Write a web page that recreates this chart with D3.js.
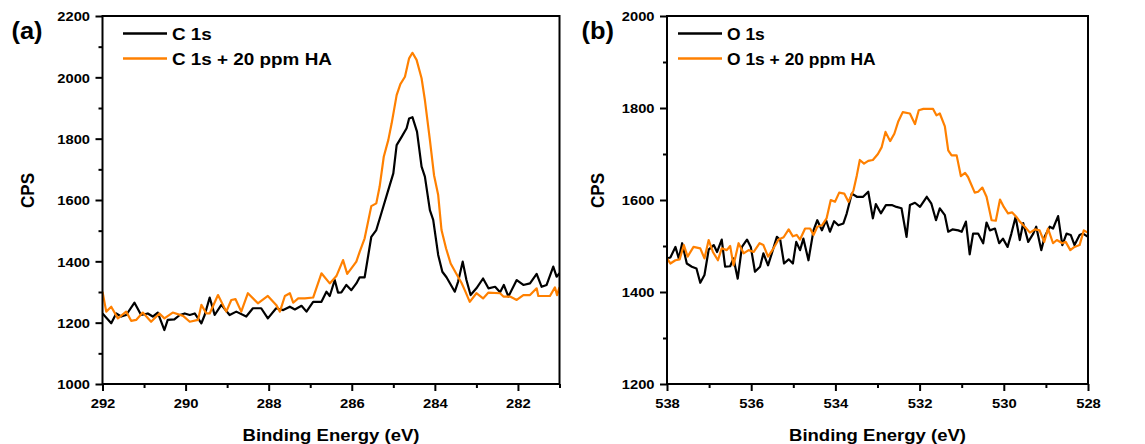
<!DOCTYPE html>
<html>
<head>
<meta charset="utf-8">
<script src="https://cdn.jsdelivr.net/npm/d3@7"></script>
<style>
  html, body { margin: 0; padding: 0; background: #fff; }
  svg { display: block; font-family: "Liberation Sans", Arial, sans-serif; font-weight: bold; }
</style>
</head>
<body>
<svg id="chart" width="1145" height="444"></svg>
<script>
// ---- XPS spectra: [binding energy (eV), counts per second] ----
const c1s = [
  [292.00,1230],[291.79,1198],[291.67,1230],[291.55,1220],[291.43,1225],[291.23,1265],[291.07,1225],
  [290.91,1230],[290.79,1220],[290.67,1233],[290.51,1176],[290.43,1209],[290.27,1211],[290.14,1225],
  [290.02,1230],[289.90,1225],[289.78,1230],[289.62,1198],[289.54,1225],[289.42,1282],[289.30,1225],
  [289.14,1258],[288.94,1225],[288.78,1236],[288.54,1220],[288.38,1247],[288.18,1247],[288.02,1214],
  [287.82,1247],[287.65,1241],[287.49,1252],[287.37,1243],[287.21,1255],[287.09,1236],[286.93,1268],
  [286.73,1268],[286.61,1301],[286.53,1287],[286.41,1339],[286.33,1298],[286.25,1299],[286.13,1323],
  [286.01,1306],[285.89,1328],[285.81,1348],[285.69,1348],[285.53,1480],[285.41,1502],[285.29,1556],
  [285.12,1633],[285.00,1687],[284.92,1779],[284.80,1806],[284.68,1834],[284.62,1866],[284.54,1870],
  [284.43,1823],[284.32,1709],[284.24,1676],[284.12,1567],[284.04,1535],[283.92,1421],[283.82,1366],
  [283.72,1348],[283.52,1301],[283.44,1334],[283.33,1399],[283.24,1339],[283.14,1290],[283.00,1312],
  [282.84,1344],[282.71,1312],[282.55,1317],[282.43,1299],[282.34,1323],[282.23,1285],[282.03,1339],
  [281.87,1323],[281.71,1328],[281.55,1359],[281.43,1317],[281.31,1323],[281.15,1383],[281.07,1350],
  [281.00,1361]
];
const c1sHA = [
  [292.00,1301],[291.91,1236],[291.79,1252],[291.63,1214],[291.43,1236],[291.31,1206],[291.19,1209],
  [291.03,1233],[290.83,1203],[290.63,1230],[290.51,1214],[290.31,1233],[290.06,1222],[289.90,1203],
  [289.70,1209],[289.62,1258],[289.50,1230],[289.42,1230],[289.22,1290],[289.02,1236],[288.90,1274],
  [288.80,1277],[288.66,1236],[288.50,1296],[288.26,1263],[288.02,1287],[287.82,1258],[287.73,1236],
  [287.61,1287],[287.49,1296],[287.41,1265],[287.29,1279],[287.13,1279],[286.93,1282],[286.73,1361],
  [286.53,1328],[286.37,1352],[286.21,1404],[286.11,1359],[286.01,1377],[285.89,1399],[285.81,1431],
  [285.69,1475],[285.53,1580],[285.41,1589],[285.33,1643],[285.23,1741],[285.12,1796],[285.04,1850],
  [284.92,1942],[284.83,1978],[284.72,2002],[284.62,2062],[284.54,2080],[284.44,2057],[284.32,1997],
  [284.24,1926],[284.12,1796],[284.02,1681],[283.92,1616],[283.84,1502],[283.73,1442],[283.62,1393],
  [283.49,1361],[283.36,1330],[283.28,1306],[283.16,1268],[283.00,1296],[282.84,1279],[282.71,1298],
  [282.43,1296],[282.35,1285],[282.19,1285],[282.03,1274],[281.87,1290],[281.71,1290],[281.55,1312],
  [281.51,1287],[281.23,1287],[281.11,1315],[281.06,1290],[281.00,1315]
];
const o1s = [
  [538.00,1473],[537.92,1475],[537.80,1498],[537.72,1473],[537.64,1506],[537.53,1462],[537.41,1455],
  [537.30,1451],[537.21,1420],[537.11,1437],[537.01,1492],[536.89,1502],[536.81,1487],[536.70,1514],
  [536.62,1455],[536.50,1456],[536.42,1473],[536.32,1429],[536.22,1498],[536.10,1514],[536.01,1498],
  [535.91,1444],[535.79,1455],[535.71,1484],[535.60,1458],[535.51,1484],[535.39,1520],[535.31,1513],
  [535.22,1462],[535.11,1471],[535.01,1462],[534.93,1509],[534.84,1491],[534.76,1516],[534.64,1469],
  [534.52,1534],[534.43,1556],[534.32,1534],[534.22,1556],[534.13,1531],[534.03,1554],[533.93,1545],
  [533.81,1549],[533.73,1571],[533.61,1614],[533.49,1607],[533.34,1607],[533.22,1618],[533.11,1560],
  [533.04,1591],[532.92,1571],[532.80,1589],[532.66,1589],[532.55,1585],[532.43,1582],[532.31,1520],
  [532.23,1589],[532.11,1594],[531.99,1585],[531.83,1607],[531.72,1592],[531.61,1556],[531.52,1582],
  [531.40,1567],[531.32,1531],[531.22,1536],[531.08,1534],[531.00,1531],[530.90,1553],[530.81,1482],
  [530.73,1527],[530.61,1527],[530.49,1506],[530.41,1551],[530.33,1534],[530.21,1538],[530.11,1506],
  [530.02,1516],[529.91,1498],[529.82,1527],[529.72,1563],[529.62,1513],[529.54,1550],[529.42,1509],
  [529.30,1527],[529.23,1542],[529.11,1491],[529.03,1520],[528.91,1542],[528.83,1538],[528.71,1565],
  [528.61,1502],[528.51,1527],[528.41,1524],[528.32,1502],[528.20,1524],[528.12,1527],[528.00,1520]
];
const o1sHA = [
  [538.00,1473],[537.92,1462],[537.80,1469],[537.70,1471],[537.60,1502],[537.51,1477],[537.37,1498],
  [537.21,1495],[537.11,1473],[537.01,1513],[536.91,1487],[536.79,1469],[536.70,1495],[536.58,1491],
  [536.50,1500],[536.42,1458],[536.30,1506],[536.18,1484],[536.06,1491],[535.94,1487],[535.80,1506],
  [535.71,1502],[535.60,1477],[535.47,1495],[535.35,1514],[535.23,1519],[535.11,1536],[535.01,1521],
  [534.92,1524],[534.84,1514],[534.72,1538],[534.60,1538],[534.52,1524],[534.43,1542],[534.32,1545],
  [534.21,1560],[534.11,1600],[534.01,1596],[533.91,1616],[533.79,1614],[533.69,1596],[533.57,1621],
  [533.49,1654],[533.42,1687],[533.32,1679],[533.22,1685],[533.11,1687],[532.99,1700],[532.90,1715],
  [532.81,1748],[532.70,1728],[532.60,1744],[532.51,1770],[532.40,1791],[532.23,1788],[532.11,1765],
  [532.02,1795],[531.91,1798],[531.68,1798],[531.60,1784],[531.52,1788],[531.40,1760],[531.32,1708],
  [531.24,1697],[531.12,1697],[531.02,1652],[530.92,1659],[530.85,1650],[530.69,1616],[530.61,1618],
  [530.51,1627],[530.41,1607],[530.29,1556],[530.19,1555],[530.09,1601],[530.00,1585],[529.90,1571],
  [529.80,1573],[529.70,1563],[529.62,1553],[529.50,1542],[529.38,1529],[529.26,1536],[529.15,1534],
  [529.04,1509],[528.95,1538],[528.83,1506],[528.74,1513],[528.61,1506],[528.53,1509],[528.42,1491],
  [528.32,1498],[528.20,1502],[528.10,1534],[528.00,1529]
];

// ---- series names and axis ticks ----
const c1sNames = ["C 1s", "C 1s + 20 ppm HA"];
const o1sNames = ["O 1s", "O 1s + 20 ppm HA"];
const c1sXTicks = [292, 290, 288, 286, 284, 282];
const c1sXMinor = [291, 289, 287, 285, 283, 281];
const c1sYTicks = [1000, 1200, 1400, 1600, 1800, 2000, 2200];
const c1sYMinor = [1100, 1300, 1500, 1700, 1900, 2100];
const o1sXTicks = [538, 536, 534, 532, 530, 528];
const o1sXMinor = [537, 535, 533, 531, 529];
const o1sYTicks = [1200, 1400, 1600, 1800, 2000];
const o1sYMinor = [1300, 1500, 1700, 1900];
const seriesColors = ["#000000", "#ff8000"];

const panels = [
  { tag: "(a)", series: [c1s, c1sHA], names: c1sNames,
    xDomain: [292, 281], yDomain: [1000, 2200],
    xTicks: c1sXTicks, xMinor: c1sXMinor, yTicks: c1sYTicks, yMinor: c1sYMinor,
    left: 102.5, right: 559.5, top: 16, bottom: 384,
    tagX: 11.5, cpsX: 33.5, legendX: 123, legendSx: 1.18 },
  { tag: "(b)", series: [o1s, o1sHA], names: o1sNames,
    xDomain: [538, 528], yDomain: [1200, 2000],
    xTicks: o1sXTicks, xMinor: o1sXMinor, yTicks: o1sYTicks, yMinor: o1sYMinor,
    left: 667, right: 1088, top: 16, bottom: 384,
    tagX: 581.5, cpsX: 604, legendX: 678, legendSx: 1.09 }
];

const svg = d3.select("#chart");

// horizontally widened bold text, as in the original figure's type
function wideText(g, str, x, y, size, sx, anchor, rot) {
  return g.append("text")
    .attr("transform", `translate(${x},${y}) scale(${sx},1)` + (rot ? ` rotate(${rot})` : ""))
    .attr("text-anchor", anchor)
    .attr("fill", "#000")
    .style("font-size", size + "px")
    .text(str);
}

panels.forEach((p, pi) => {
  const g = svg.append("g");
  const x = d3.scaleLinear().domain(p.xDomain).range([p.left, p.right]);
  const y = d3.scaleLinear().domain(p.yDomain).range([p.bottom, p.top]);

  // x axis: major + minor ticks
  const gx = g.append("g").attr("transform", `translate(0,${p.bottom})`)
    .call(d3.axisBottom(x).tickValues(p.xTicks).tickSize(7).tickSizeOuter(0).tickFormat(d3.format("d")));
  const gxm = g.append("g").attr("transform", `translate(0,${p.bottom})`)
    .call(d3.axisBottom(x).tickValues(p.xMinor).tickSize(4).tickSizeOuter(0).tickFormat(""));
  // y axis: major + minor ticks
  const gy = g.append("g").attr("transform", `translate(${p.left},0)`)
    .call(d3.axisLeft(y).tickValues(p.yTicks).tickSize(7).tickSizeOuter(0).tickFormat(d3.format("d")));
  const gym = g.append("g").attr("transform", `translate(${p.left},0)`)
    .call(d3.axisLeft(y).tickValues(p.yMinor).tickSize(4).tickSizeOuter(0).tickFormat(""));

  [gx, gxm, gy, gym].forEach(a => {
    a.attr("font-size", null).attr("font-family", null);
    a.select(".domain").remove();
    a.selectAll(".tick line").attr("stroke", "#000").attr("stroke-width", 2);
  });
  gx.selectAll(".tick text")
    .attr("y", null).attr("dy", null).attr("fill", "#000")
    .attr("transform", "translate(0,23.8) scale(1.14,1)")
    .style("font-size", "13px");
  gy.selectAll(".tick text")
    .attr("x", null).attr("dy", "0.36em").attr("fill", "#000")
    .attr("transform", "translate(-12.5,0) scale(1.13,1)")
    .style("font-size", "13px");

  // clipped data lines
  const clipId = "clip" + pi;
  g.append("clipPath").attr("id", clipId)
    .append("rect").attr("x", p.left).attr("y", p.top)
    .attr("width", p.right - p.left).attr("height", p.bottom - p.top);
  const line = d3.line().x(d => x(d[0])).y(d => y(d[1]));
  const lines = g.append("g").attr("clip-path", `url(#${clipId})`);
  p.series.forEach((s, i) => {
    lines.append("path").datum(s)
      .attr("d", line)
      .attr("fill", "none")
      .attr("stroke", seriesColors[i])
      .attr("stroke-width", 2.2)
      .attr("stroke-linejoin", "round");
  });

  // frame
  g.append("rect")
    .attr("x", p.left).attr("y", p.top)
    .attr("width", p.right - p.left).attr("height", p.bottom - p.top)
    .attr("fill", "none").attr("stroke", "#000").attr("stroke-width", 2);

  // legend
  p.names.forEach((name, i) => {
    const ly = 33.5 + i * 25;
    g.append("line")
      .attr("x1", p.legendX).attr("x2", p.legendX + 44)
      .attr("y1", ly).attr("y2", ly)
      .attr("stroke", seriesColors[i]).attr("stroke-width", 2.5);
    wideText(g, name, p.legendX + 49, ly + 6.2, 16, p.legendSx, "start");
  });

  // axis titles and panel tag
  wideText(g, "Binding Energy (eV)", (p.left + p.right) / 2, 440.5, 17, 1.09, "middle");
  wideText(g, "CPS", p.cpsX, 190.5, 17, 1.08, "middle", -90);
  wideText(g, p.tag, p.tagX, 38.5, 24, 1.06, "start");
});
</script>
</body>
</html>
